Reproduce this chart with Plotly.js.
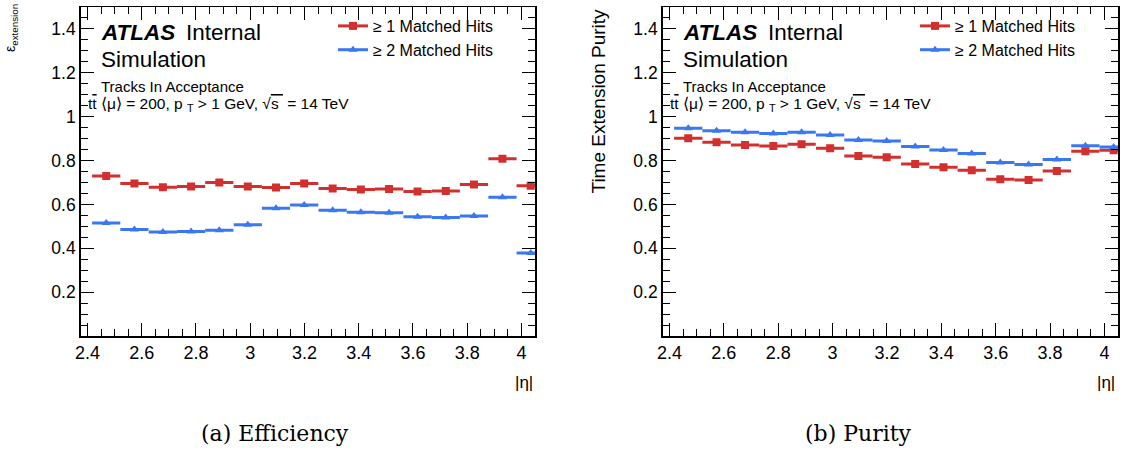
<!DOCTYPE html>
<html>
<head>
<meta charset="utf-8">
<script src="https://cdn.plot.ly/plotly-3.0.1.min.js"></script>
<style>html,body{margin:0;padding:0;background:#fff;}#chart{width:1123px;height:451px;}</style>
</head>
<body>
<div id="chart"></div>
<script>
// ---- data ----
const binCenters = [2.469, 2.573, 2.678, 2.782, 2.886, 2.991, 3.095, 3.199, 3.304, 3.408, 3.512, 3.617, 3.721, 3.825, 3.930, 4.034];
const binHalfWidth = 0.052;
const effHit1 = [0.730, 0.695, 0.679, 0.682, 0.700, 0.682, 0.677, 0.695, 0.673, 0.668, 0.670, 0.659, 0.661, 0.691, 0.808, 0.685];
const effHit2 = [0.515, 0.486, 0.475, 0.477, 0.482, 0.508, 0.583, 0.598, 0.574, 0.565, 0.562, 0.544, 0.541, 0.547, 0.633, 0.379];
const purHit1 = [0.902, 0.883, 0.871, 0.867, 0.874, 0.856, 0.821, 0.815, 0.785, 0.770, 0.756, 0.715, 0.711, 0.752, 0.842, 0.847];
const purHit2 = [0.947, 0.936, 0.929, 0.924, 0.929, 0.917, 0.894, 0.889, 0.864, 0.848, 0.832, 0.791, 0.782, 0.805, 0.868, 0.862];
const seriesNames = ["≥ 1 Matched Hits", "≥ 2 Matched Hits"];
const yTitles = ["ε<sub>extension</sub>", "Time Extension Purity"];
const xTitle = "|η|";
const captions = ["(a) Efficiency", "(b) Purity"];

// ---- styles ----
const RED = "#d22f2f", BLUE = "#3a78f2";
const FONT = "Liberation Sans, Arial, sans-serif";
const W = 1123, H = 451;
const px = v => v / W, py = v => 1 - v / H;

function dataTrace(y, color, symbol, size, xa, ya) {
  return {
    type: "scatter", mode: "markers", x: binCenters, y: y, xaxis: xa, yaxis: ya,
    showlegend: false, hoverinfo: "x+y",
    marker: {color: color, symbol: symbol, size: size, line: {width: 0}},
    error_x: {type: "constant", value: binHalfWidth, color: color, thickness: 3, width: 0}
  };
}
function legendTrace(name, color, symbol, size, xa, ya, leg) {
  return {
    type: "scatter", mode: "lines+markers", x: [null], y: [null], xaxis: xa, yaxis: ya,
    name: name, legend: leg, showlegend: true,
    line: {color: color, width: 3},
    marker: {color: color, symbol: symbol, size: size}
  };
}

const traces = [
  dataTrace(effHit1, RED, "square", 8, "x", "y"),
  dataTrace(effHit2, BLUE, "triangle-up", 8, "x", "y"),
  dataTrace(purHit1, RED, "square", 8, "x2", "y2"),
  dataTrace(purHit2, BLUE, "triangle-up", 8, "x2", "y2"),
  legendTrace(seriesNames[0], RED, "square", 8, "x", "y", "legend"),
  legendTrace(seriesNames[1], BLUE, "triangle-up", 8, "x", "y", "legend"),
  legendTrace(seriesNames[0], RED, "square", 8, "x2", "y2", "legend2"),
  legendTrace(seriesNames[1], BLUE, "triangle-up", 8, "x2", "y2", "legend2")
];

function xAxis(domain, anchor) {
  return {
    domain: domain, anchor: anchor, range: [2.375, 4.05],
    tickmode: "linear", tick0: 2.4, dtick: 0.2,
    ticks: "inside", ticklen: 13, tickwidth: 1, tickcolor: "#000",
    minor: {tickmode: "linear", tick0: 2.4, dtick: 0.05, ticks: "inside", ticklen: 7, tickwidth: 1, tickcolor: "#000"},
    showline: true, linewidth: 1.5, linecolor: "#000", mirror: "ticks",
    showgrid: false, zeroline: false,
    tickfont: {family: FONT, size: 18, color: "#000"}
  };
}
function yAxis(domain, anchor) {
  return {
    domain: domain, anchor: anchor, range: [0.0005, 1.5],
    tickmode: "linear", tick0: 0, dtick: 0.2,
    ticks: "inside", ticklen: 13, tickwidth: 1, tickcolor: "#000",
    minor: {tickmode: "linear", tick0: 0, dtick: 0.05, ticks: "inside", ticklen: 7, tickwidth: 1, tickcolor: "#000"},
    showline: true, linewidth: 1.5, linecolor: "#000", mirror: "ticks",
    showgrid: false, zeroline: false,
    tickfont: {family: FONT, size: 17.5, color: "#000"}
  };
}

const yDom = [1 - 336 / H, 1 - 7 / H];
const offsets = [0, 582];
const annotations = [];
offsets.forEach((dx, i) => {
  annotations.push(
    {xref: "paper", yref: "paper", x: px(99 + dx), y: py(33), xanchor: "left", yanchor: "middle", showarrow: false,
     text: "<b><i>ATLAS</i></b>", font: {family: FONT, size: 22.5, color: "#000"}},
    {xref: "paper", yref: "paper", x: px(184 + dx), y: py(33), xanchor: "left", yanchor: "middle", showarrow: false,
     text: "Internal", font: {family: FONT, size: 22.5, color: "#000"}},
    {xref: "paper", yref: "paper", x: px(99 + dx), y: py(59), xanchor: "left", yanchor: "middle", showarrow: false,
     text: "Simulation", font: {family: FONT, size: 22.5, color: "#000"}},
    {xref: "paper", yref: "paper", x: px(99 + dx), y: py(87), xanchor: "left", yanchor: "middle", showarrow: false,
     text: "Tracks In Acceptance", font: {family: FONT, size: 15, color: "#000"}},
    {xref: "paper", yref: "paper", x: px(86 + dx), y: py(104), xanchor: "left", yanchor: "middle", showarrow: false,
     text: "t<span style=\"text-decoration:overline\">t</span> ⟨μ⟩ = 200, p <sub>T</sub> > 1 GeV, √<span style=\"text-decoration:overline\">s </span> = 14 TeV",
     font: {family: FONT, size: 15.5, color: "#000"}},
    {xref: "paper", yref: "paper", x: px(535 + dx), y: py(382), xanchor: "right", yanchor: "middle", showarrow: false,
     text: xTitle, font: {family: FONT, size: 17, color: "#000"}},
    {xref: "paper", yref: "paper", x: px([275, 858][i]), y: py(433), xanchor: "center", yanchor: "middle", showarrow: false,
     text: captions[i], font: {family: "DejaVu Serif, serif", size: 22, color: "#000"}}
  );
});
annotations.push(
  {xref: "paper", yref: "paper", x: px(11), y: py(2), xanchor: "center", yanchor: "top", showarrow: false, textangle: -90,
   text: yTitles[0], font: {family: FONT, size: 14, color: "#000"}},
  {xref: "paper", yref: "paper", x: px(598), y: py(7), xanchor: "center", yanchor: "top", showarrow: false, textangle: -90,
   text: yTitles[1], font: {family: FONT, size: 19, color: "#000"}}
);

function legendCfg(xpx) {
  return {x: px(xpx), y: py(9), xanchor: "left", yanchor: "top", bgcolor: "rgba(0,0,0,0)", borderwidth: 0,
          font: {family: FONT, size: 16, color: "#000"}, itemwidth: 30, tracegroupgap: 0};
}

const layout = {
  width: W, height: H, margin: {l: 0, r: 0, t: 0, b: 0},
  paper_bgcolor: "#fff", plot_bgcolor: "#fff", showlegend: true,
  xaxis: xAxis([px(80.7), px(535)], "y"),
  yaxis: yAxis(yDom, "x"),
  xaxis2: xAxis([px(662.7), px(1118)], "y2"),
  yaxis2: yAxis(yDom, "x2"),
  legend: legendCfg(333),
  legend2: legendCfg(915),
  annotations: annotations
};

Plotly.newPlot("chart", traces, layout, {displayModeBar: false, staticPlot: true});
</script>
</body>
</html>
